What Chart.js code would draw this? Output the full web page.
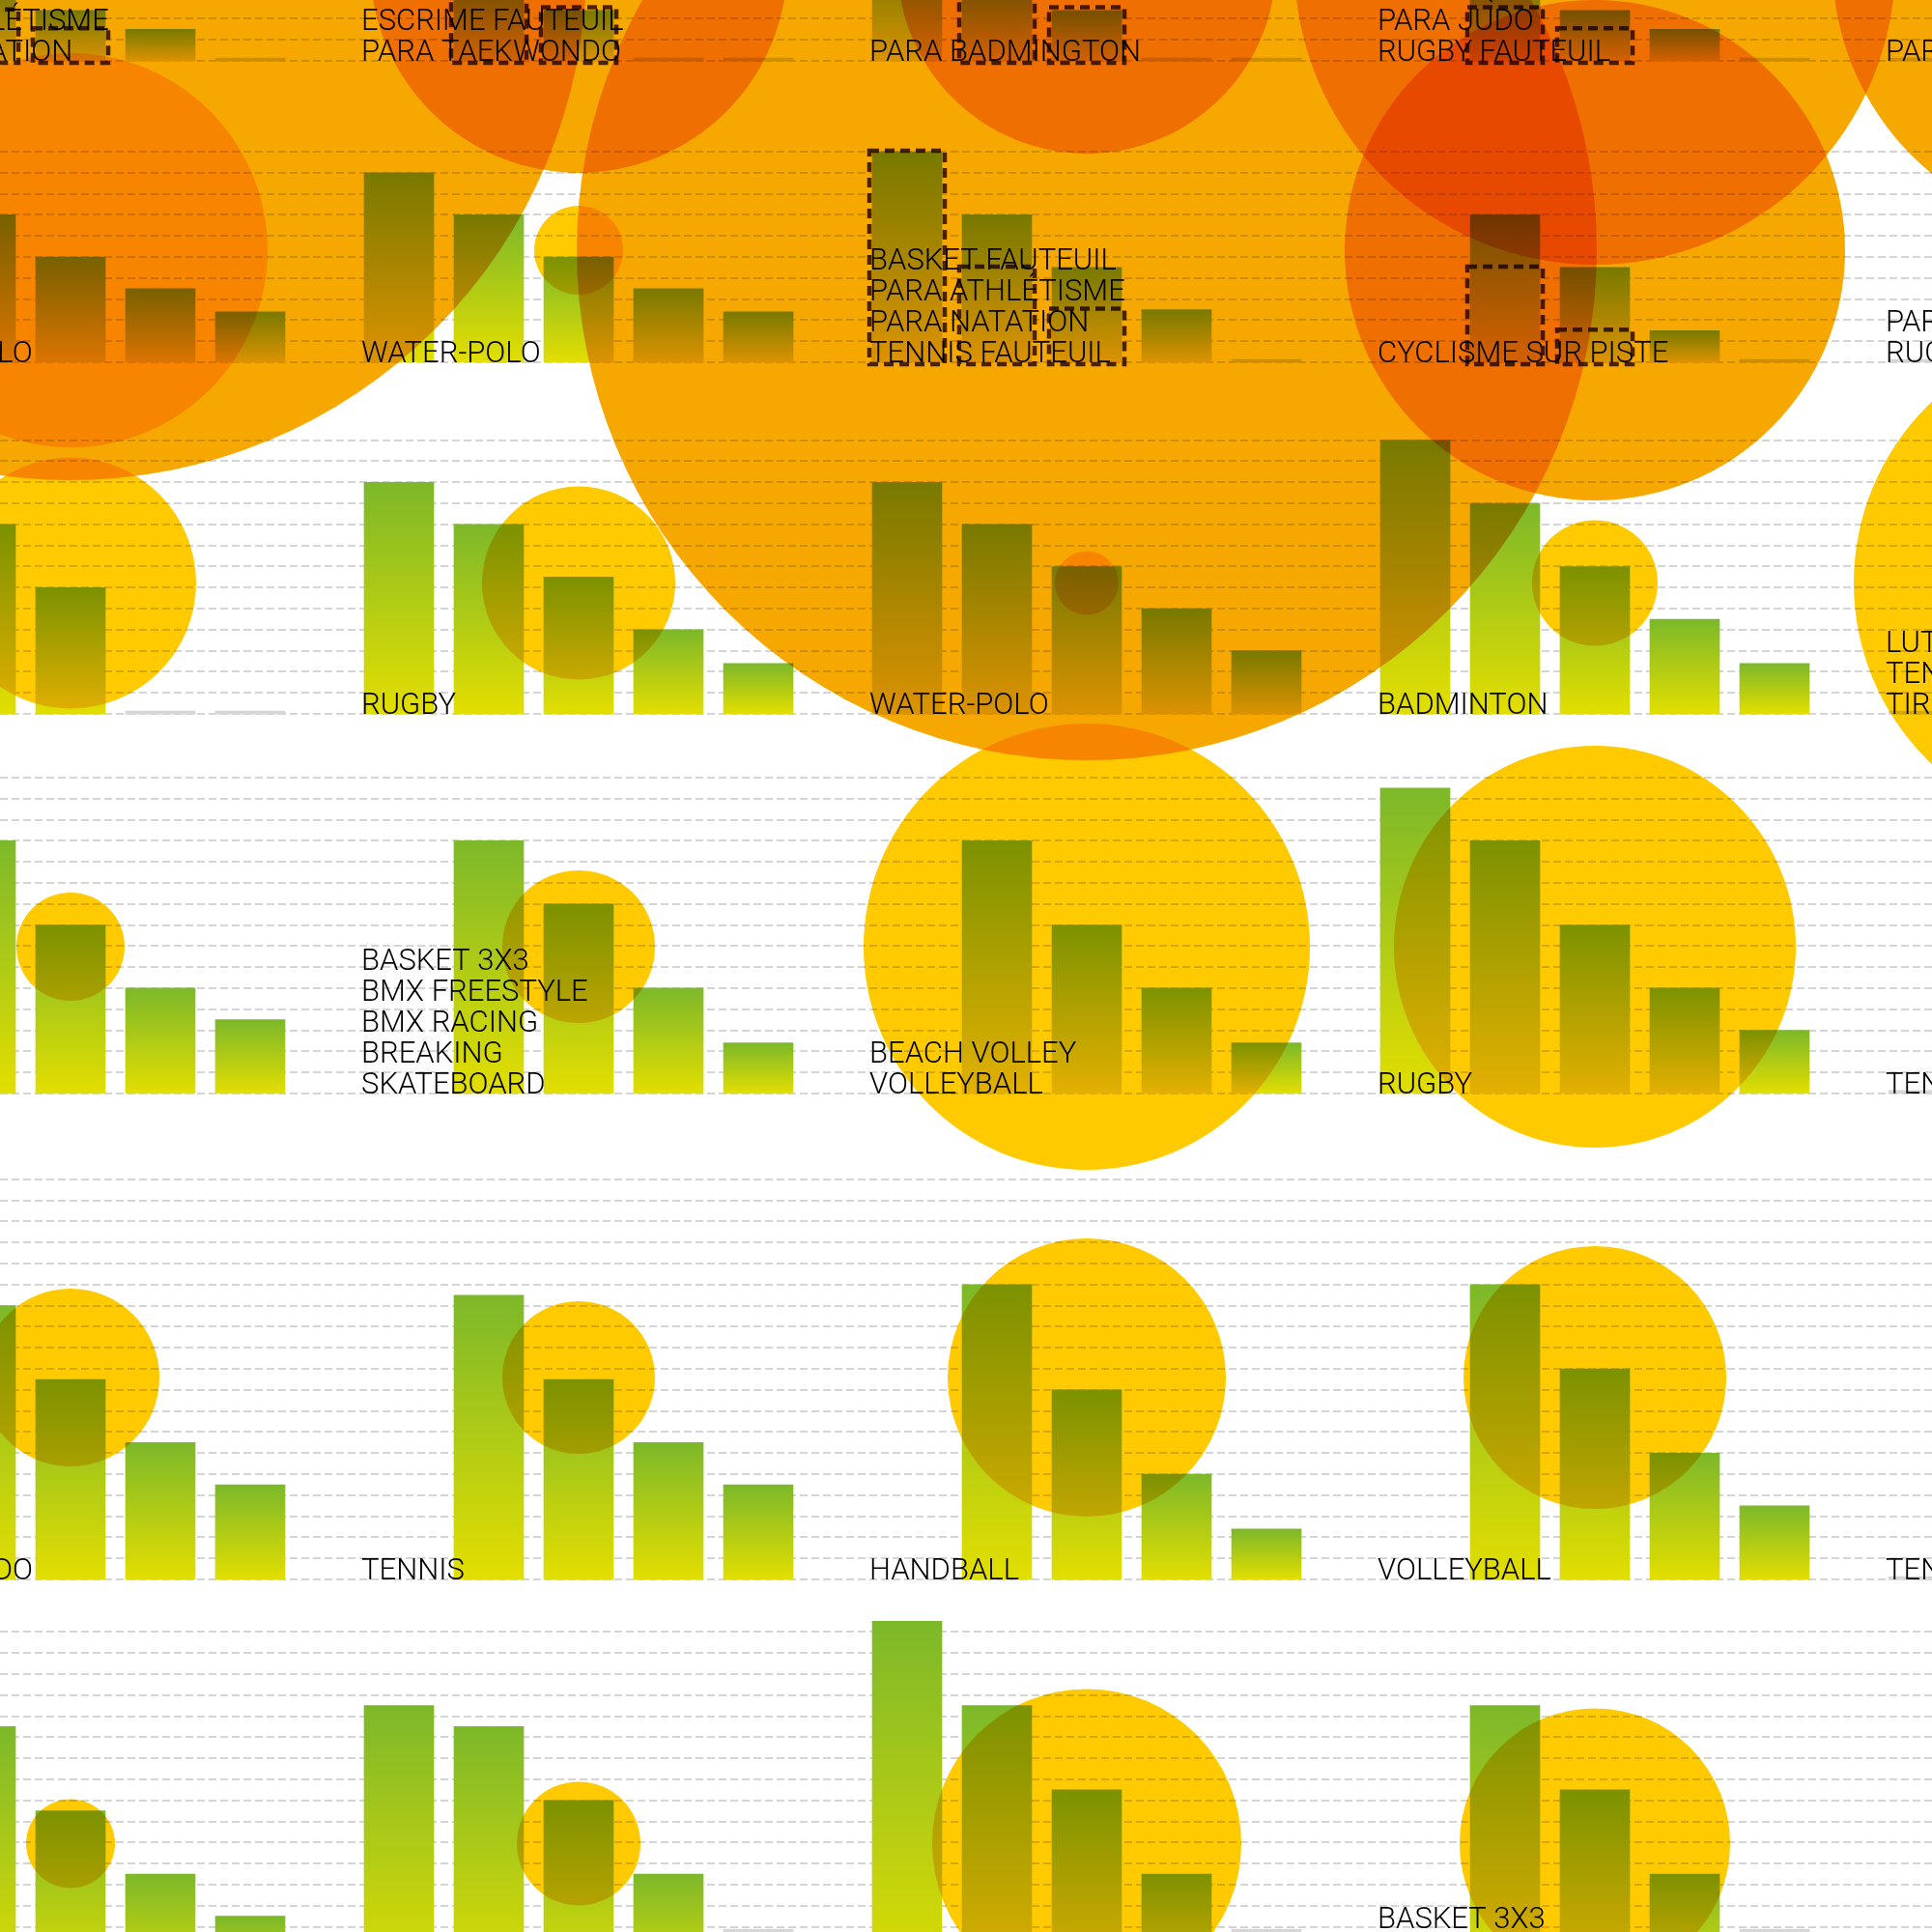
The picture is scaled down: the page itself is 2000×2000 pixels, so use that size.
<!DOCTYPE html>
<html><head><meta charset="utf-8">
<style>html,body{margin:0;padding:0;background:#fff;overflow:hidden}canvas{display:block}</style>
<script src="https://cdn.jsdelivr.net/npm/chart.js@4.4.1/dist/chart.umd.min.js"></script>
</head><body>
<canvas id="c" width="2000" height="2000"></canvas>
<script>
// ---------------- DATA (rows top→bottom, columns left→right) ----------------
const panelLabels = [
  [["PARA CYCLISME","PARA ATHLÉTISME","PARA NATATION"],["CÉCIFOOT","ESCRIME FAUTEUIL","PARA TAEKWONDO"],["PARA BADMINGTON"],["PARA ÉQUITATION","PARA JUDO","RUGBY FAUTEUIL"],["PARA TIR À L'ARC"]],
  [["WATER-POLO"],["WATER-POLO"],["BASKET FAUTEUIL","PARA ATHLÉTISME","PARA NATATION","TENNIS FAUTEUIL"],["CYCLISME SUR PISTE"],["PARA JUDO","RUGBY FAUTEUIL"]],
  [[],["RUGBY"],["WATER-POLO"],["BADMINTON"],["LUTTE","TENNIS DE TABLE","TIR"]],
  [[],["BASKET 3X3","BMX FREESTYLE","BMX RACING","BREAKING","SKATEBOARD"],["BEACH VOLLEY","VOLLEYBALL"],["RUGBY"],["TENNIS DE TABLE"]],
  [["TAEKWONDO"],["TENNIS"],["HANDBALL"],["VOLLEYBALL"],["TENNIS DE TABLE"]],
  [[],[],[],["BASKET 3X3","BREAKING","SKATEBOARD"],[]]
];
// price per category (5 slots), euros; null = no bar
const barPrices = [
  [[null,35,24,15,0],[null,35,24,0,0],[45,35,24,0,0],[null,35,24,15,0],[0,null,null,null,null]],
  [[90,70,50,35,24],[90,70,50,35,24],[100,70,45,25,0],[null,70,45,15,0],[0,null,null,null,null]],
  [[null,90,60,0,0],[110,90,65,40,24],[110,90,70,50,30],[130,100,70,45,24],[0,null,null,null,null]],
  [[null,120,80,50,35],[null,120,90,50,24],[null,120,80,50,24],[145,120,80,50,30],[0,null,null,null,null]],
  [[null,130,95,65,45],[null,135,95,65,45],[null,140,90,50,24],[null,140,100,60,35],[0,null,null,null,null]],
  [[null,125,85,55,35],[135,125,90,55,0],[175,135,95,55,0],[null,135,95,55,0],[null,null,null,null,null]]
];
// dashed outline prices (para panels)
const outlinePrices = [
  [[null,24,15,null,null],[null,35,25,null,null],[null,35,25,null,null],[null,25,15,null,null],[null,null,null,null,null]],
  [[null,null,null,null,null],[null,null,null,null,null],[100,45,25,null,null],[null,45,15,null,null],[null,null,null,null,null]]
];
// bubble radii
const circleSizes = [
  [534,216,196,311,280],
  [204,46,528,259,null],
  [130,100,33,65,258],
  [56,79,231,208,null],
  [92,79,144,136,null],
  [46,64,160,140,null]
];
const paraPanels = [
  [true,true,true,true,true],
  [false,false,true,true,true],
  [false,false,false,false,false],
  [false,false,false,false,false],
  [false,false,false,false,false],
  [false,false,false,false,false]
];
const gridSteps = [10,10,13,15,19,17];   // number of 10 € gridlines per row
const gridStep = 10;

// ---------------- LAYOUT ----------------
const W = 2000, H = 2000;
const PX_PER_EURO = 2.18;
const SLOT_PX = 93;
const COL_PITCH = 526 / SLOT_PX;            // in slot units
const X_MIN = 113 / SLOT_PX;
const rowBase = [888.5, 745.4, 578.4, 398.2, 167.4, -27.5];   // euros on the shared y scale
const circleLevel = [45.9, 53.2, 62.2, 69.7, 95.9, 69.5];     // euros above row base
const GREEN = 'rgb(124,184,42)', YELLOW_BAR = 'rgb(227,222,0)', GRAY = '#d6d6d6';
const CIRCLE_OLY = 'rgb(255,202,0)', CIRCLE_PARA = 'rgb(247,168,0)';

// ---------------- BUILD DATASETS ----------------
const barData = [], outlineData = [], bubbleData = [], textItems = [];
barPrices.forEach((row, r) => row.forEach((vals, c) => vals.forEach((v, s) => {
  if (v === null) return;
  barData.push({x: c * COL_PITCH + s, y: [rowBase[r], rowBase[r] + v], price: v});
})));
outlinePrices.forEach((row, r) => row.forEach((vals, c) => vals.forEach((v, s) => {
  if (v === null) return;
  outlineData.push({x: c * COL_PITCH + s, y: [rowBase[r], rowBase[r] + v], price: v});
})));
circleSizes.forEach((row, r) => row.forEach((rad, c) => {
  if (rad === null) return;
  bubbleData.push({x: c * COL_PITCH + 2, y: rowBase[r] + circleLevel[r], r: rad, para: paraPanels[r][c]});
}));
panelLabels.forEach((row, r) => row.forEach((lines, c) => {
  if (lines.length) textItems.push({x: c * COL_PITCH, y: rowBase[r], lines});
}));

function barFill(ctx) {
  if (ctx.type !== 'data') return GRAY;
  const raw = ctx.raw;
  if (!raw || raw.price === 0) return GRAY;
  const ys = ctx.chart.scales.y;
  if (!ys) return GREEN;
  const top = ys.getPixelForValue(raw.y[1]);
  const bot = ys.getPixelForValue(raw.y[0]);
  if (!isFinite(top) || !isFinite(bot) || top === bot) return GREEN;
  const g = ctx.chart.ctx.createLinearGradient(0, top, 0, bot);
  g.addColorStop(0, GREEN);
  g.addColorStop(1, YELLOW_BAR);
  return g;
}

const gridPlugin = {
  id: 'rowGrid',
  beforeDatasetsDraw(chart) {
    const ctx = chart.ctx, ys = chart.scales.y;
    ctx.save();
    ctx.strokeStyle = '#d5d5d5';
    ctx.lineWidth = 2;
    ctx.setLineDash([8, 4]);
    gridSteps.forEach((n, r) => {
      for (let k = 0; k <= n; k++) {
        const y = Math.round(ys.getPixelForValue(rowBase[r] + k * gridStep));
        ctx.beginPath(); ctx.moveTo(0, y); ctx.lineTo(W, y); ctx.stroke();
      }
    });
    ctx.restore();
  }
};
const blendPlugin = {
  id: 'blend',
  beforeDatasetDraw(chart, args) {
    const ds = chart.data.datasets[args.index];
    if (ds.blend) { chart.ctx.save(); chart.ctx.globalCompositeOperation = ds.blend; }
  },
  afterDatasetDraw(chart, args) {
    const ds = chart.data.datasets[args.index];
    if (ds.blend) chart.ctx.restore();
  }
};
const outlinePlugin = {
  id: 'outlines',
  afterDatasetsDraw(chart) {
    const idx = chart.data.datasets.findIndex(d => d.outline);
    const meta = chart.getDatasetMeta(idx);
    const ctx = chart.ctx;
    ctx.save();
    ctx.globalCompositeOperation = 'multiply';
    ctx.strokeStyle = 'rgb(78,50,26)';
    ctx.lineWidth = 4.5;
    ctx.setLineDash([10, 6]);
    meta.data.forEach(el => {
      const p = el.getProps(['x', 'y', 'base', 'width'], true);
      const left = p.x - p.width / 2 - 3, right = p.x + p.width / 2 + 3;
      const top = Math.min(p.y, p.base) - 1, bottom = Math.max(p.y, p.base) + 2;
      ctx.strokeRect(left, top, right - left, bottom - top);
    });
    ctx.restore();
  }
};
const textPlugin = {
  id: 'panelText',
  afterDraw(chart) {
    const ctx = chart.ctx, xs = chart.scales.x, ys = chart.scales.y;
    ctx.save();
    ctx.fillStyle = '#000';
    ctx.font = '300 31px Roboto';
    ctx.textBaseline = 'alphabetic';
    ctx.textAlign = 'left';
    textItems.forEach(t => {
      const x = xs.getPixelForValue(t.x) - 39;
      const y = ys.getPixelForValue(t.y);
      const n = t.lines.length;
      t.lines.forEach((line, j) => ctx.fillText(line, x, y - (n - 1 - j) * 32));
    });
    ctx.restore();
  }
};

function draw() {
  new Chart(document.getElementById('c'), {
    type: 'bar',
    data: {
      datasets: [
        {type: 'bar', data: barData, backgroundColor: barFill, borderWidth: 0,
         barThickness: 72, grouped: false, minBarLength: 3, order: 3},
        {type: 'bubble', data: bubbleData, blend: 'multiply', order: 2, borderWidth: 0,
         backgroundColor: c => (c.raw && c.raw.para) ? CIRCLE_PARA : CIRCLE_OLY,
         hoverRadius: 0, clip: false},
        {type: 'bar', data: outlineData, outline: true, backgroundColor: 'rgba(0,0,0,0)',
         borderWidth: 0, barThickness: 72, grouped: false, order: 1}
      ]
    },
    options: {
      responsive: false, animation: false, devicePixelRatio: 1,
      layout: {padding: 0, autoPadding: false},
      events: [],
      scales: {
        x: {type: 'linear', display: false, offset: false, min: X_MIN, max: X_MIN + W / SLOT_PX},
        y: {type: 'linear', display: false, min: 0, max: H / PX_PER_EURO}
      },
      plugins: {legend: {display: false}, tooltip: {enabled: false}}
    },
    plugins: [gridPlugin, blendPlugin, outlinePlugin, textPlugin]
  });
}
if (document.fonts && document.fonts.load) {
  document.fonts.load('300 31px Roboto').then(draw, draw);
} else draw();
</script>
</body></html>
